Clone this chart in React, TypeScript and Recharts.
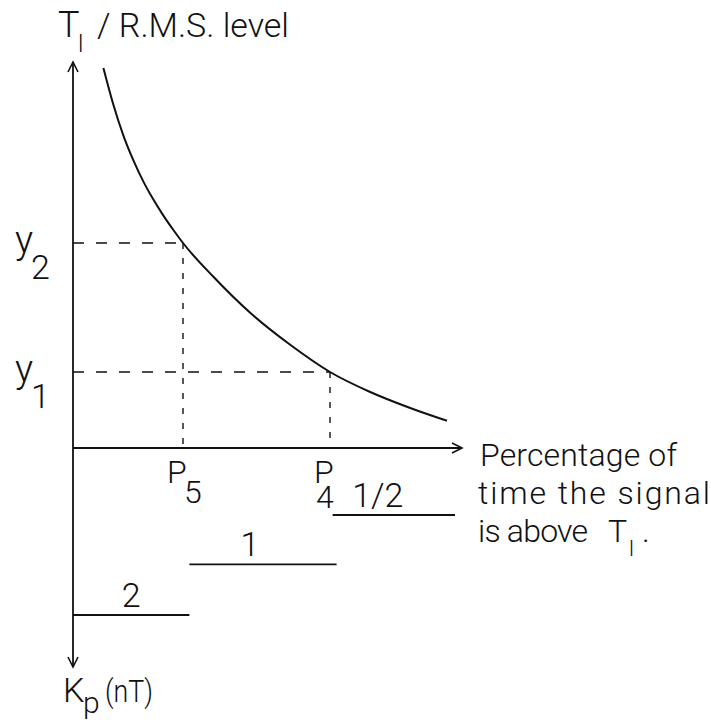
import { ComposedChart, Line, XAxis, YAxis, ReferenceLine } from "recharts";

const FONT = "Roboto, 'DejaVu Sans', sans-serif";
const INK = "#111";

// percentage of time the signal is above T_l, against the level
const pctTime = [7.6, 10.1, 12.6, 15.1, 17.6, 20.1, 22.6, 25.1, 27.5, 35.1, 44.3, 54.3, 64.25, 74.3, 84.3, 93.5];
const rmsLevel = [95, 85.8, 78.1, 71.9, 66.6, 62.1, 58.1, 54.5, 51.25, 42.8, 33.8, 25.8, 19, 14, 10, 6.8];

// two readings taken off the curve
const readPct = [27.5, 64.25];
const readLevel = [51.25, 19];
const levelSubs = ["2", "1"];
const pctSubs = ["5", "4"];

// K_p bands hung below the time axis
const kpNames = ["2", "1", "1/2"];
const kpStart = [0, 29.1, 64.9];
const kpEnd = [29.1, 65.9, 95.5];
const kpRow = [-41.75, -29.1, -16.75];

// drawn extent of the axes
const xAxisEnd = 97.25;
const yAxisTop = 96.5;
const yAxisBottom = -54.75;

const curve = pctTime.map((x, i) => ({ x, y: rmsLevel[i] }));

const chevron = (tx: number, ty: number, ux: number, uy: number, key: string) => {
  const len = 10;
  const half = 5;
  const bx = tx - ux * len;
  const by = ty - uy * len;
  const px = -uy;
  const py = ux;
  return (
    <path
      key={key}
      d={`M${bx + px * half},${by + py * half} L${tx},${ty} L${bx - px * half},${by - py * half}`}
      fill="none"
      stroke={INK}
      strokeWidth={1.6}
    />
  );
};

function ArrowAxis(props: any) {
  const { x1, y1, x2, y2, both } = props;
  const d = Math.hypot(x2 - x1, y2 - y1) || 1;
  const ux = (x2 - x1) / d;
  const uy = (y2 - y1) / d;
  return (
    <g>
      <line x1={x1} y1={y1} x2={x2} y2={y2} stroke={INK} strokeWidth={1.8} />
      {chevron(x2, y2, ux, uy, "end")}
      {both && chevron(x1, y1, -ux, -uy, "start")}
    </g>
  );
}

const t = { fontFamily: FONT, fontWeight: 300, fill: INK } as const;

export default function App() {
  return (
    <div style={{ position: "absolute", left: 0, top: 0, background: "#fff" }}>
      <ComposedChart
        width={711}
        height={722}
        data={curve}
        margin={{ top: 48, right: 238, bottom: 26, left: 73 }}
      >
        <XAxis type="number" dataKey="x" domain={[0, 100]} hide allowDataOverflow />
        <YAxis type="number" domain={[-62, 100]} hide allowDataOverflow />

        {/* level axis, pointing both ways */}
        <ReferenceLine
          segment={[{ x: 0, y: yAxisBottom }, { x: 0, y: yAxisTop }]}
          shape={(p: any) => <ArrowAxis {...p} both />}
          label={(p: any) => {
            const vb = p.viewBox;
            const top = vb.y;
            const bottom = vb.y + vb.height;
            return (
              <g>
                <text {...t} x={vb.x - 15} y={top - 25} fontSize={36}>T</text>
                <text {...t} x={vb.x + 5} y={top - 10} fontSize={24}>l</text>
                <text {...t} x={vb.x + 24} y={top - 25} fontSize={34} textLength={192} lengthAdjust="spacing">
                  / R.M.S. level
                </text>
                <text {...t} x={vb.x - 10} y={bottom + 35} fontSize={34}>K</text>
                <text {...t} x={vb.x + 10} y={bottom + 46} fontSize={30}>p</text>
                <text {...t} x={vb.x + 32} y={bottom + 35} fontSize={32} textLength={48} lengthAdjust="spacingAndGlyphs">
                  (nT)
                </text>
              </g>
            );
          }}
        />

        {/* time axis */}
        <ReferenceLine
          segment={[{ x: 0, y: 0 }, { x: xAxisEnd, y: 0 }]}
          shape={(p: any) => <ArrowAxis {...p} />}
          label={(p: any) => {
            const vb = p.viewBox;
            const x = vb.x + vb.width + 18;
            const y = vb.y;
            return (
              <g>
                <text {...t} x={x} y={y + 18} fontSize={32} textLength={197} lengthAdjust="spacing">
                  Percentage of
                </text>
                <text {...t} x={x - 2} y={y + 56} fontSize={32} textLength={232} lengthAdjust="spacing">
                  time the signal
                </text>
                <text {...t} x={x - 2} y={y + 94} fontSize={32} textLength={110} lengthAdjust="spacing">
                  is above
                </text>
                <text {...t} x={x + 128} y={y + 94} fontSize={32}>T</text>
                <text {...t} x={x + 149} y={y + 108} fontSize={22}>l</text>
                <text {...t} x={x + 162} y={y + 94} fontSize={32}>.</text>
              </g>
            );
          }}
        />

        {/* readings: dashed across to the level axis and down to the time axis */}
        {readPct.map((px, i) => (
          <ReferenceLine
            key={`h${i}`}
            segment={[{ x: 0, y: readLevel[i] }, { x: px, y: readLevel[i] }]}
            stroke={INK}
            strokeWidth={1.4}
            strokeDasharray="11 12"
            label={(p: any) => {
              const vb = p.viewBox;
              return (
                <g>
                  <text {...t} x={vb.x - 58} y={vb.y + 10} fontSize={38}>y</text>
                  <text {...t} x={vb.x - 42} y={vb.y + 36} fontSize={34}>{levelSubs[i]}</text>
                </g>
              );
            }}
          />
        ))}
        {readPct.map((px, i) => (
          <ReferenceLine
            key={`v${i}`}
            segment={[{ x: px, y: readLevel[i] }, { x: px, y: 0 }]}
            stroke={INK}
            strokeWidth={1.4}
            strokeDasharray="6 9"
            label={(p: any) => {
              const vb = p.viewBox;
              const base = vb.y + vb.height;
              const subX = i === 0 ? vb.x + 1 : vb.x - 14;
              const subY = i === 0 ? base + 55 : base + 60;
              return (
                <g>
                  <text {...t} x={vb.x - 16} y={base + 35} fontSize={32}>P</text>
                  <text {...t} x={subX} y={subY} fontSize={32}>{pctSubs[i]}</text>
                </g>
              );
            }}
          />
        ))}

        {/* K_p bands */}
        {kpNames.map((name, i) => (
          <ReferenceLine
            key={`kp${i}`}
            segment={[{ x: kpStart[i], y: kpRow[i] }, { x: kpEnd[i], y: kpRow[i] }]}
            stroke={INK}
            strokeWidth={1.8}
            label={(p: any) => {
              const vb = p.viewBox;
              const shift = i === 0 ? 0 : i === 1 ? -13 : -16;
              return (
                <text {...t} x={vb.x + vb.width / 2 + shift} y={vb.y - 8} fontSize={34} textAnchor="middle">
                  {name}
                </text>
              );
            }}
          />
        ))}

        <Line
          type="monotone"
          dataKey="y"
          stroke={INK}
          strokeWidth={2}
          dot={false}
          activeDot={false}
          isAnimationActive={false}
        />
      </ComposedChart>
    </div>
  );
}
